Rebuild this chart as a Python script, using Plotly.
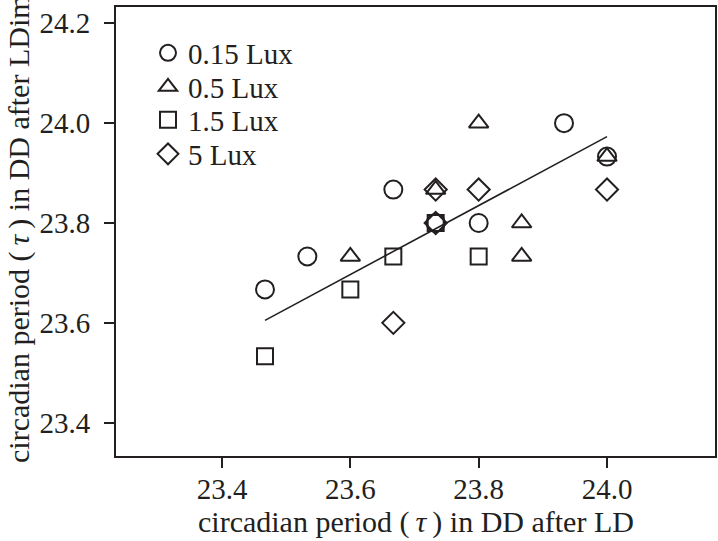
import plotly.graph_objects as go

# Data
lux015_x = [23.467, 23.533, 23.667, 23.733, 23.800, 23.933, 24.000]
lux015_y = [23.667, 23.733, 23.867, 23.800, 23.800, 24.000, 23.933]
lux05_x = [23.600, 23.733, 23.800, 23.867, 23.867, 24.000]
lux05_y = [23.733, 23.867, 24.000, 23.800, 23.733, 23.933]
lux15_x = [23.467, 23.600, 23.667, 23.733, 23.800]
lux15_y = [23.533, 23.667, 23.733, 23.800, 23.733]
lux5_x = [23.667, 23.733, 23.733, 23.800, 24.000]
lux5_y = [23.600, 23.867, 23.800, 23.867, 23.867]
fit_x = [23.467, 24.000]
fit_y = [23.605, 23.973]

series_names = ["0.15 Lux", "0.5 Lux", "1.5 Lux", "5 Lux"]
x_ticks = [23.4, 23.6, 23.8, 24.0]
y_ticks = [23.4, 23.6, 23.8, 24.0, 24.2]

W, H = 718, 541
L, R, T, B = 116, 3, 7, 85
INK = "#231f20"
FONT = "Liberation Serif, Times New Roman, serif"

fig = go.Figure()
fig.add_trace(go.Scatter(x=fit_x, y=fit_y, mode="lines",
                         line=dict(color=INK, width=1.6), showlegend=False))

specs = [
    (lux015_x, lux015_y, "circle-open", 18),
    (lux05_x, lux05_y, "triangle-up-open", 17),
    (lux15_x, lux15_y, "square-open", 16),
    (lux5_x, lux5_y, "diamond-open", 17),
]
legend_ids = ["legend", "legend2", "legend3", "legend4"]
for (xs, ys, sym, sz), name, lg in zip(specs, series_names, legend_ids):
    fig.add_trace(go.Scatter(
        x=xs, y=ys, mode="markers", name=name, legend=lg,
        marker=dict(symbol=sym, size=sz, color=INK, line=dict(width=2, color=INK)),
    ))

row_y = [53, 87, 120, 154]
leg_common = dict(font=dict(family=FONT, size=29, color=INK),
                  bgcolor="rgba(0,0,0,0)", borderwidth=0,
                  xref="container", yref="container",
                  xanchor="left", yanchor="middle")
layout_legends = {}
for lg, ry in zip(legend_ids, row_y):
    layout_legends[lg] = dict(x=(168 - 20) / W, y=1 - ry / H, **leg_common)

axis_common = dict(showline=True, linewidth=2, linecolor=INK, mirror=True,
                   ticks="outside", ticklen=10, tickwidth=2, tickcolor=INK,
                   showgrid=False, zeroline=False,
                   tickfont=dict(family=FONT, size=29, color=INK))

fig.update_layout(
    width=W, height=H,
    margin=dict(l=L, r=R, t=T, b=B, autoexpand=False),
    paper_bgcolor="white", plot_bgcolor="white",
    showlegend=True,
    xaxis=dict(range=[23.2348, 24.1683], tickvals=x_ticks,
               ticktext=[f"{v:.1f}" for v in x_ticks], ticklabelstandoff=-4,
               **axis_common),
    yaxis=dict(range=[23.3333, 24.2327], tickvals=y_ticks,
               ticktext=[f"{v:.1f}" for v in y_ticks], ticklabelstandoff=8,
               **axis_common),
    **layout_legends,
)

fig.add_annotation(
    text="circadian period (\u2009<i>\u03c4</i>\u2009) in DD after LD",
    xref="paper", yref="paper", x=0.5, y=(456 - 522) / (H - T - B),
    xanchor="center", yanchor="middle", showarrow=False,
    font=dict(family=FONT, size=30, color=INK))
fig.add_annotation(
    text="circadian period (\u2009<i>\u03c4</i>\u2009) in DD after LDim",
    xref="paper", yref="paper", x=(19 - L) / (W - L - R), y=(456 - 229) / (H - T - B),
    xanchor="center", yanchor="middle", textangle=-90, showarrow=False,
    font=dict(family=FONT, size=30, color=INK))

fig.write_html("out.html", config={"displayModeBar": False},
               post_script="document.body.style.margin='0';")
